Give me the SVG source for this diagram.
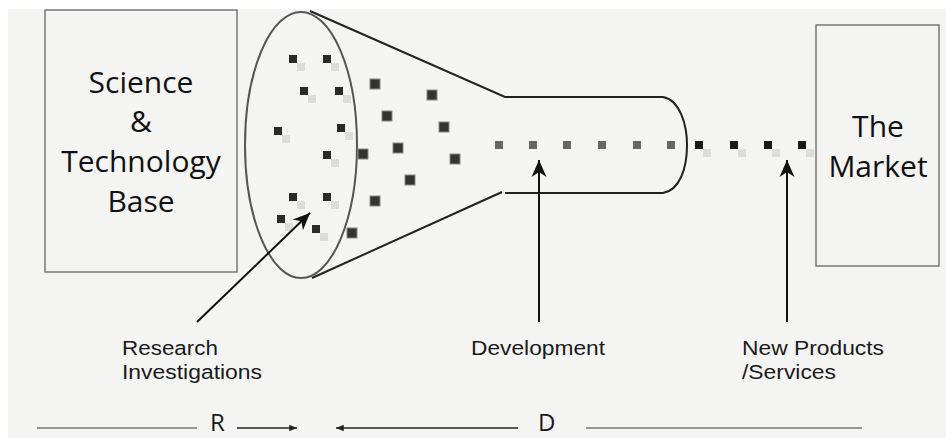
<svg xmlns="http://www.w3.org/2000/svg" width="946" height="438" viewBox="0 0 946 438">
<style>
.box{fill:none;stroke:#707070;stroke-width:1.4}
.big{font-family:"Open Sans","Noto Sans",sans-serif;font-size:30px;fill:#111;text-anchor:middle}
.lbl{font-family:"Liberation Sans",Arial,sans-serif;font-size:20px;fill:#1a1a1a}
.rd{font-family:"Open Sans","Noto Sans",sans-serif;font-size:24px;fill:#1a1a1a}
.dk{fill:#2a2a2a}
.sh{fill:#dcdcdc}
.out{fill:#333;stroke:#888;stroke-width:1}
.dev{fill:#666}
.mk{fill:#1a1a1a}
.arr{stroke:#111;stroke-width:2;fill:none}
.thin{stroke:#777;stroke-width:1.5;fill:none}
.thinb{stroke:#222;stroke-width:1.3;fill:none}
</style>
<defs>
<marker id="ah" markerUnits="userSpaceOnUse" markerWidth="20" markerHeight="20" viewBox="-18 -9 20 18" refX="0" refY="0" orient="auto">
<path d="M0,0 L-17,-7.5 L-12,0 L-17,7.5 Z" fill="#111"/>
</marker>
<marker id="sm" markerUnits="userSpaceOnUse" markerWidth="10" markerHeight="10" viewBox="-8 -4 9 8" refX="0" refY="0" orient="auto">
<path d="M0,0 L-7,-3 L-7,3 Z" fill="#222"/>
</marker>
</defs>
<rect x="0" y="0" width="946" height="438" fill="#ffffff"/>
<rect x="8" y="9" width="938" height="429" fill="#f4f4f3"/>

<g id="science-base">
<rect class="box" x="45" y="10" width="192" height="262"/>
<text class="big" x="141" y="93">Science</text>
<text class="big" x="141" y="132">&amp;</text>
<text class="big" x="141" y="172">Technology</text>
<text class="big" x="141" y="212">Base</text>
</g>

<g id="market">
<rect class="box" x="816" y="25" width="123" height="241"/>
<text class="big" x="878" y="137">The</text>
<text class="big" x="878" y="177">Market</text>
</g>

<g id="funnel">
<path d="M310,11 L505,97 L663,97 C680,100 687,125 687,145 C687,168 680,190 663,193 L505,193 M502,192 L312,278" fill="none" stroke="#222" stroke-width="2"/>
<ellipse cx="301" cy="145" rx="56" ry="133" fill="none" stroke="#555" stroke-width="2"/>
</g>

<g id="research-ideas">
<rect class="sh" x="297" y="63" width="8" height="8"/>
<rect class="sh" x="331" y="63" width="8" height="8"/>
<rect class="sh" x="308" y="95" width="8" height="8"/>
<rect class="sh" x="343" y="95" width="8" height="8"/>
<rect class="sh" x="282" y="135" width="8" height="8"/>
<rect class="sh" x="345" y="132" width="8" height="8"/>
<rect class="sh" x="331" y="159" width="8" height="8"/>
<rect class="sh" x="297" y="201" width="8" height="8"/>
<rect class="sh" x="331" y="201" width="8" height="8"/>
<rect class="sh" x="285" y="223" width="8" height="8"/>
<rect class="sh" x="320" y="233" width="8" height="8"/>
<rect class="dk" x="289" y="55" width="8" height="8"/>
<rect class="dk" x="323" y="55" width="8" height="8"/>
<rect class="dk" x="300" y="87" width="8" height="8"/>
<rect class="dk" x="335" y="87" width="8" height="8"/>
<rect class="dk" x="274" y="127" width="8" height="8"/>
<rect class="dk" x="337" y="124" width="8" height="8"/>
<rect class="dk" x="323" y="151" width="8" height="8"/>
<rect class="dk" x="289" y="193" width="8" height="8"/>
<rect class="dk" x="323" y="193" width="8" height="8"/>
<rect class="dk" x="277" y="215" width="8" height="8"/>
<rect class="dk" x="312" y="225" width="8" height="8"/>
<rect class="out" x="370" y="79" width="10" height="10"/>
<rect class="out" x="427" y="90" width="10" height="10"/>
<rect class="out" x="382" y="111" width="10" height="10"/>
<rect class="out" x="439" y="122" width="10" height="10"/>
<rect class="out" x="358" y="149" width="10" height="10"/>
<rect class="out" x="393" y="143" width="10" height="10"/>
<rect class="out" x="450" y="154" width="10" height="10"/>
<rect class="out" x="405" y="175" width="10" height="10"/>
<rect class="out" x="370" y="196" width="10" height="10"/>
<rect class="out" x="347" y="228" width="10" height="10"/>
</g>

<g id="development-stream">
<rect class="dev" x="495" y="141" width="8" height="8"/>
<rect class="dev" x="529" y="141" width="8" height="8"/>
<rect class="dev" x="563" y="141" width="8" height="8"/>
<rect class="dev" x="598" y="141" width="8" height="8"/>
<rect class="dev" x="633" y="141" width="8" height="8"/>
<rect class="dev" x="667" y="141" width="8" height="8"/>
</g>

<g id="product-stream">
<rect class="sh" x="703" y="149" width="8" height="8"/>
<rect class="sh" x="738" y="149" width="8" height="8"/>
<rect class="sh" x="772" y="149" width="8" height="8"/>
<rect class="sh" x="806" y="149" width="8" height="8"/>
<rect class="mk" x="695" y="141" width="8" height="8"/>
<rect class="mk" x="730" y="141" width="8" height="8"/>
<rect class="mk" x="764" y="141" width="8" height="8"/>
<rect class="mk" x="798" y="141" width="8" height="8"/>
</g>

<g id="connectors">
<line class="arr" x1="197" y1="322" x2="310" y2="213" marker-end="url(#ah)"/>
<line class="arr" x1="539" y1="322" x2="539" y2="160" marker-end="url(#ah)"/>
<line class="arr" x1="787" y1="322" x2="787" y2="160" marker-end="url(#ah)"/>
<line class="thin" x1="37" y1="428" x2="197" y2="428"/>
<line class="thinb" x1="237" y1="428" x2="297" y2="428" marker-end="url(#sm)"/>
<line class="thinb" x1="518" y1="428" x2="336" y2="428" marker-end="url(#sm)"/>
<line class="thin" x1="586" y1="428" x2="862" y2="428"/>
</g>

<g id="labels">
<text class="lbl" x="122" y="355" textLength="96" lengthAdjust="spacingAndGlyphs">Research</text>
<text class="lbl" x="122" y="379" textLength="140" lengthAdjust="spacingAndGlyphs">Investigations</text>
<text class="lbl" x="471" y="355" textLength="134" lengthAdjust="spacingAndGlyphs">Development</text>
<text class="lbl" x="742" y="355" textLength="142" lengthAdjust="spacingAndGlyphs">New Products</text>
<text class="lbl" x="742" y="379" textLength="94" lengthAdjust="spacingAndGlyphs">/Services</text>
<text class="rd" x="210" y="431">R</text>
<text class="rd" x="538" y="431">D</text>
</g>
</svg>
